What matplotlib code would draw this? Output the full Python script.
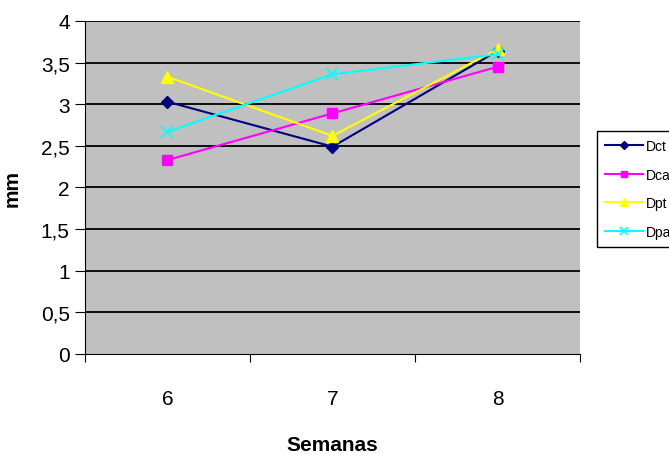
import matplotlib
matplotlib.use("Agg")
import matplotlib.pyplot as plt
import numpy as np

semanas = ["6", "7", "8"]
dct = [3.03, 2.49, 3.64]
dcap = [2.33, 2.89, 3.45]
dpt = [3.33, 2.62, 3.66]
dpap = [2.67, 3.36, 3.60]

plt.rcParams['font.family'] = ['Liberation Sans', 'DejaVu Sans']

fig = plt.figure(figsize=(6.69, 4.56), dpi=100)
ax = fig.add_axes([0.127, 0.2215, 0.74, 0.7303])
ax.set_facecolor('#C0C0C0')

x = np.arange(len(semanas)) + 0.5
ax.plot(x, dct, color='#000080', marker='D', markersize=6, lw=1.5, label='Dct')
ax.plot(x, dcap, color='#FF00FF', marker='s', markersize=7, lw=1.5, label='Dcap')
ax.plot(x, dpt, color='#FFFF00', marker='^', markersize=9, lw=1.5, label='Dpt')
ax.plot(x, dpap, color='#00FFFF', marker='x', markersize=9, mew=1.2, lw=1.5, label='Dpap')

ax.set_xlim(0, 3)
ax.set_ylim(0, 4)
yt = np.arange(0, 4.01, 0.5)
ax.set_yticks(yt)
ax.set_yticklabels([('%g' % v).replace('.', ',') for v in yt], fontsize=15)
for v in yt[1:]:
    ax.axhline(v, color='black', lw=1.3, zorder=1)
ax.set_xticks([0, 1, 2, 3])
ax.set_xticklabels([])
ax.set_xticks(x, minor=True)
ax.set_xticklabels(semanas, minor=True, fontsize=15)
ax.tick_params(axis='x', which='minor', length=0, pad=25)
ax.tick_params(axis='x', which='major', length=6, direction='out', color='black')
ax.tick_params(axis='y', length=7, direction='out', pad=4)

for s in ['top', 'right']:
    ax.spines[s].set_visible(False)
ax.spines['left'].set_color('black')
ax.spines['bottom'].set_color('black')

ax.set_xlabel('Semanas', fontsize=15, fontweight='bold')
ax.xaxis.set_label_coords(0.5, -0.243)
ax.set_ylabel('mm', fontsize=15, fontweight='bold')
ax.yaxis.set_label_coords(-0.127, 0.5)

leg = fig.legend(loc='upper left', bbox_to_anchor=(0.892, 0.711),
                 bbox_transform=fig.transFigure, fontsize=10, fancybox=False,
                 edgecolor='black', framealpha=1, handlelength=2.7,
                 labelspacing=1.05, borderpad=0.6, handletextpad=0.25,
                 borderaxespad=0, markerscale=0.7)
leg.get_frame().set_linewidth(1.0)

fig.savefig('out.png', dpi=100)
